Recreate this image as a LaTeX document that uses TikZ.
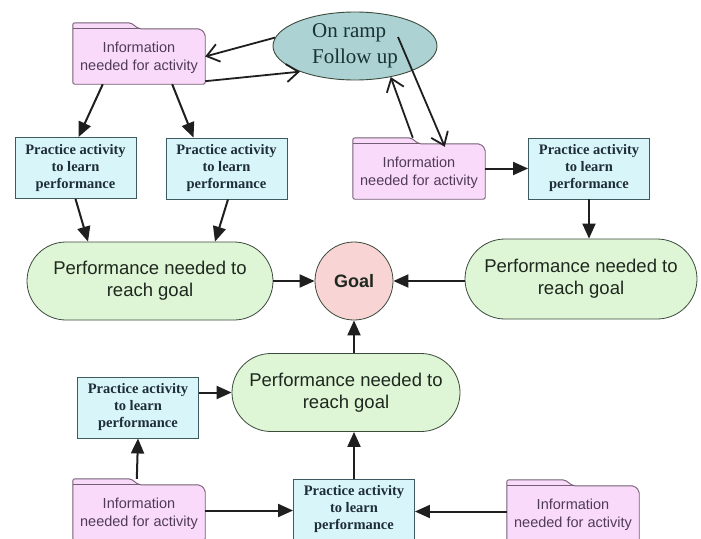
\documentclass[tikz,border=0pt]{standalone}
\usepackage{fontspec}
\setmainfont{Liberation Serif}
\newfontfamily\arialfont{Liberation Sans}
\usetikzlibrary{arrows.meta,shapes.geometric,shapes.misc}

\definecolor{folderfill}{RGB}{250,218,250}
\definecolor{folderdraw}{RGB}{115,95,115}
\definecolor{foldertext}{RGB}{80,60,90}
\definecolor{practicefill}{RGB}{216,246,250}
\definecolor{practicedraw}{RGB}{60,90,95}
\definecolor{practicetext}{RGB}{30,45,55}
\definecolor{perffill}{RGB}{222,246,214}
\definecolor{perfdraw}{RGB}{60,75,60}
\definecolor{perftext}{RGB}{30,40,30}
\definecolor{goalfill}{RGB}{248,212,212}
\definecolor{ellfill}{RGB}{172,210,212}
\definecolor{elltext}{RGB}{25,50,50}

\tikzset{
  practice/.style={rectangle, draw=practicedraw, line width=0.9pt, fill=practicefill,
    minimum width=121pt, minimum height=61pt, inner sep=0pt, align=center,
    font=\fontsize{14.5}{17}\selectfont\bfseries, text=practicetext},
  perf/.style={rounded rectangle, draw=perfdraw, line width=0.8pt, fill=perffill,
    minimum height=78pt, inner sep=0pt, align=center,
    font=\arialfont\fontsize{18.5}{22}\selectfont, text=perftext},
  goalnode/.style={circle, draw=perfdraw, line width=0.8pt, fill=goalfill,
    minimum size=78pt, inner sep=0pt, font=\arialfont\bfseries\fontsize{18}{22}\selectfont, text=perftext},
  rampnode/.style={ellipse, draw=perfdraw, line width=0.9pt, fill=ellfill,
    minimum width=164pt, minimum height=68pt, inner sep=0pt, align=left,
    font=\fontsize{21}{26}\selectfont, text=elltext},
  infobody/.style={rectangle, minimum width=132pt, minimum height=55pt, inner sep=0pt},
  infolabel/.style={align=center, inner sep=0pt,
    font=\arialfont\fontsize{14.5}{18}\selectfont, text=foldertext},
  folderline/.style={draw=folderdraw, line width=0.9pt, fill=folderfill, rounded corners=2pt},
  arr/.style={line width=2pt, draw=black!88, -{Triangle[length=15pt,width=13pt]}},
  openarr/.style={line width=1.8pt, draw=black!88, -{Straight Barb[length=12pt,width=18pt]}}
}

% information folder: a body node, the tabbed outline, then the label on top
\newcommand{\infofolder}[2]{%
  \node[infobody] (#1) at (#2) {};
  \draw[folderline] (#1.south west) -- ([yshift=6pt]#1.north west)
    -- ([xshift=58pt,yshift=6pt]#1.north west) -- ([xshift=66pt]#1.north west)
    -- ([xshift=-5pt]#1.north east) -- ([yshift=-5pt]#1.north east)
    -- (#1.south east) -- cycle;
  \draw[folderline, fill=none] (#1.north west) -- ([xshift=66pt]#1.north west);
  \node[infolabel] (#1-text) at ([yshift=-1pt]#1.center) {Information\\needed for activity};
}

\begin{document}
\begin{tikzpicture}[x=1pt,y=-1pt]
  \useasboundingbox (0,0) rectangle (701,538);
  \clip (0,0) rectangle (701,538);
  \fill[white] (0,0) rectangle (701,538);

  % central goal and the three performances
  \node[goalnode] (goal) at (354,281) {Goal};
  \node[perf, minimum width=246pt] (gL) at (150,281) {Performance needed to\\reach goal};
  \node[perf, minimum width=232pt, minimum height=80pt] (gR) at (581,279) {Performance needed to\\reach goal};
  \node[perf, minimum width=228pt] (gB) at (346,392.5) {Performance needed to\\reach goal};

  % on ramp
  \node[rampnode] (ramp) at (355,46) {On ramp\\Follow up};

  % information folders
  \infofolder{f1}{139,56.5}
  \infofolder{f2}{419,171.5}
  \infofolder{fBL}{139,512.5}
  \infofolder{fBR}{573,513.5}

  % practice activities
  \node[practice] (p1) at (75.5,168) {Practice activity\\to learn\\performance};
  \node[practice] (p2) at (226.5,168.5) {Practice activity\\to learn\\performance};
  \node[practice] (pTR) at (589,168.5) {Practice activity\\to learn\\performance};
  \node[practice] (pBL) at (138,407.5) {Practice activity\\to learn\\performance};
  \node[practice] (pBM) at (354,509.5) {Practice activity\\to learn\\performance};

  % on ramp links
  \coordinate (rampin) at ([xshift=43pt,yshift=9pt]ramp.center);
  \draw[openarr] (ramp.174) -- (f1.east);
  \draw[openarr] ([yshift=3pt]f1.south east) -- (ramp.205);
  \draw[openarr] ([xshift=60pt,yshift=6pt]f2.north west) -- (ramp.319);
  \draw[openarr] (rampin) -- ([xshift=92pt,yshift=-3pt]f2.north west);

  % upper left branch
  \draw[arr] ([xshift=30pt]f1.south west) -- ([xshift=3pt]p1.north);
  \draw[arr] ([xshift=-33pt]f1.south east) -- ([xshift=-33pt]p2.north);
  \draw[arr] (p1.south) -- ([xshift=-62pt]gL.north);
  \draw[arr] ([xshift=1.5pt]p2.south) -- ([xshift=65pt]gL.north);
  \draw[arr] (gL.east) -- (goal.west);

  % right branch
  \draw[arr] (f2.east |- pTR.west) -- (pTR.west);
  \draw[arr] (pTR.south) -- (pTR.south |- gR.north);
  \draw[arr] (gR.west |- goal.east) -- (goal.east);

  % lower branch
  \draw[arr] (goal.south |- gB.north) -- (goal.south);
  \draw[arr] (pBL.east |- gB.west) -- (gB.west);
  \draw[arr] ([xshift=64pt,yshift=6pt]fBL.north west) -- (pBL.south);
  \draw[arr] ([yshift=2pt]fBL.east) -- ([yshift=2pt]fBL.east -| pBM.west);
  \draw[arr] ([yshift=2pt]fBR.west) -- ([yshift=2pt]fBR.west -| pBM.east);
  \draw[arr] (pBM.north) -- (pBM.north |- gB.south);
\end{tikzpicture}
\end{document}
